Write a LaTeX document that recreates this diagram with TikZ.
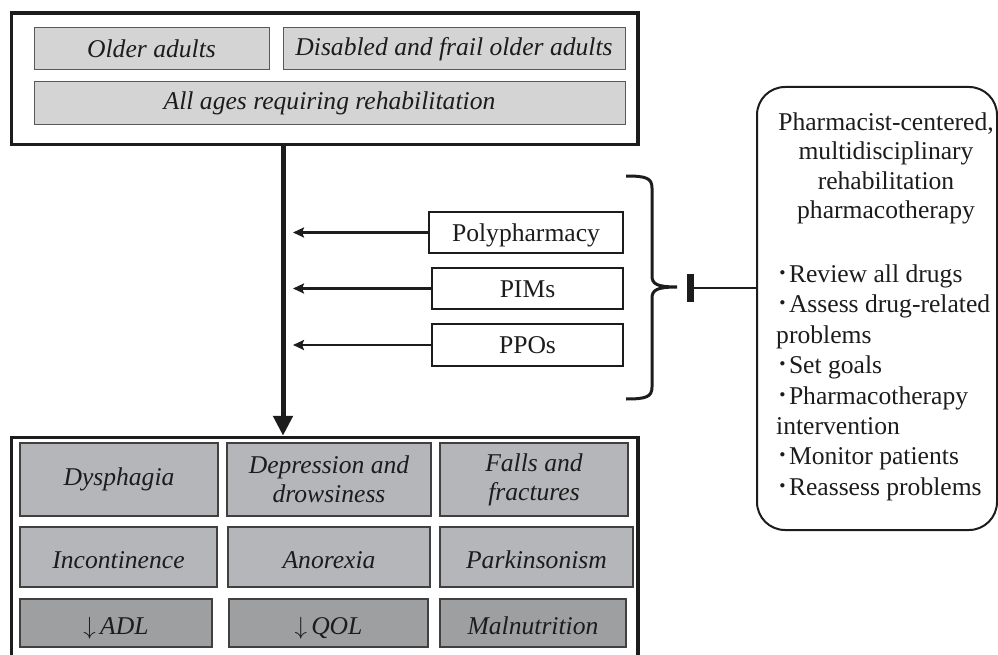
\documentclass[tikz,border=0pt]{standalone}
\usepackage{fontspec}
\setmainfont{Liberation Serif}
\newfontfamily\cjkfont{Noto Sans CJK JP}
\usetikzlibrary{arrows.meta}
\definecolor{ink}{RGB}{28,28,28}
\definecolor{popfill}{RGB}{212,212,212}
\definecolor{efffill}{RGB}{181,182,185}
\definecolor{effdark}{RGB}{158,159,161}
\newcommand{\mybul}{{\cjkfont ･}}
\newcommand{\bigfont}{\fontsize{25.6}{29}\selectfont}
\begin{document}
\begin{tikzpicture}[x=1pt,y=-1pt,
  font=\bigfont, text=ink,
  sz/.style n args={2}{minimum width=#1pt, minimum height=#2pt},
  frame/.style={draw=ink, line width=3.5pt, inner sep=0pt},
  popbox/.style={draw=black!65, line width=1pt, fill=popfill, inner sep=0pt, font=\bigfont\itshape},
  effbox/.style={draw=black!75, line width=1.4pt, fill=efffill, inner sep=0pt, align=center, font=\bigfont\itshape},
  effdarkbox/.style={effbox, fill=effdark},
  oneline/.style={text height=22pt, text depth=0pt},
  riskbox/.style={draw=ink, line width=1.6pt, fill=white, inner sep=0pt, text height=17.5pt, text depth=0pt},
  rbox/.style={draw=ink, line width=2pt, rounded corners=28pt, inner sep=0pt},
  bigarrow/.style={draw=ink, line width=5pt, -{Triangle[length=20pt,width=19pt]}},
  thinarrow/.style={draw=ink, line width=2.4pt, -{Stealth[length=11pt,width=10pt,inset=2pt]}},
  bracepath/.style={draw=ink, line width=3pt},
  inhibit/.style={draw=ink, line width=2.2pt, -{Bar[width=28pt,line width=7pt]}}
]
\useasboundingbox (0,0) rectangle (998,655);

% population frame
\node[frame, sz={626.5}{131.5}] (pop) at (324.75,78.75) {};
\node[popbox, sz={235}{42}] (older) at (151.5,49) {Older adults};
\node[popbox, sz={342}{42}] (frail) at (454,49) {Disabled and frail older adults};
\node[popbox, sz={591}{43}] (allages) at (329.5,103.5) {All ages requiring rehabilitation};

% effects frame (runs off the bottom of the picture)
\node[frame, sz={626.5}{240}] (eff) at (324.75,557.5) {};
\node[effbox, sz={198}{73}] (dys) at (119,479.5) {Dysphagia};
\node[effbox, sz={204}{73}] (dep) at (329,479.5) {Depression and\\drowsiness};
\node[effbox, sz={188}{73}] (fall) at (534,479.5) {Falls and\\fractures};
\node[effbox, oneline, sz={197}{60}] (inc) at (118.5,557) {Incontinence};
\node[effbox, oneline, sz={202}{60}] (ano) at (329,557) {Anorexia};
\node[effbox, oneline, sz={193}{60}] (park) at (536.5,557) {Parkinsonism};
\node[effdarkbox, oneline, sz={192}{48}] (adl) at (116,623) {$\downarrow$\,ADL};
\node[effdarkbox, oneline, sz={199}{48}] (qol) at (328.5,623) {$\downarrow$\,QOL};
\node[effdarkbox, oneline, sz={186}{48}] (maln) at (533,623) {Malnutrition};

% main flow
\coordinate (vx) at (283,0);
\draw[bigarrow] (pop.south -| vx) -- (eff.north -| vx);

% risk factors
\node[riskbox, sz={194}{41}] (poly) at (526,232.5) {Polypharmacy};
\node[riskbox, sz={191}{41}] (pims) at (527.5,288.5) {PIMs};
\node[riskbox, sz={191}{42}] (ppos) at (527.5,345) {PPOs};
\coordinate (ax) at (293,0);
\draw[thinarrow] (poly.west) -- (poly.west -| ax);
\draw[thinarrow] (pims.west) -- (pims.west -| ax);
\draw[thinarrow] (ppos.west) -- (ppos.west -| ax);

% brace
\draw[bracepath] (626,176) .. controls (646,176) and (652,178) .. (652,188)
  -- (652,276) .. controls (652,284) and (657,287) .. (677,287)
  .. controls (657,287) and (652,290) .. (652,298)
  -- (652,387) .. controls (652,397) and (646,399) .. (626,399);

% intervention box
\node[rbox, sz={240}{443}] (rb) at (877,308.5) {};
\node[anchor=north, align=center, inner sep=0pt, font=\fontsize{25.6}{29.5}\selectfont] (head) at (886,112.5)
  {Pharmacist-centered,\\multidisciplinary\\rehabilitation\\pharmacotherapy};
\node[anchor=north west, align=left, inner sep=0pt, font=\fontsize{25.6}{30.4}\selectfont] (steps) at (776,264.5)
  {\mybul Review all drugs\\\mybul Assess drug-related\\problems\\\mybul Set goals\\\mybul Pharmacotherapy\\intervention\\\mybul Monitor patients\\\mybul Reassess problems};

\coordinate (tb) at (686.5,288);
\draw[inhibit] (rb.west |- tb) -- (tb);
\end{tikzpicture}
\end{document}
